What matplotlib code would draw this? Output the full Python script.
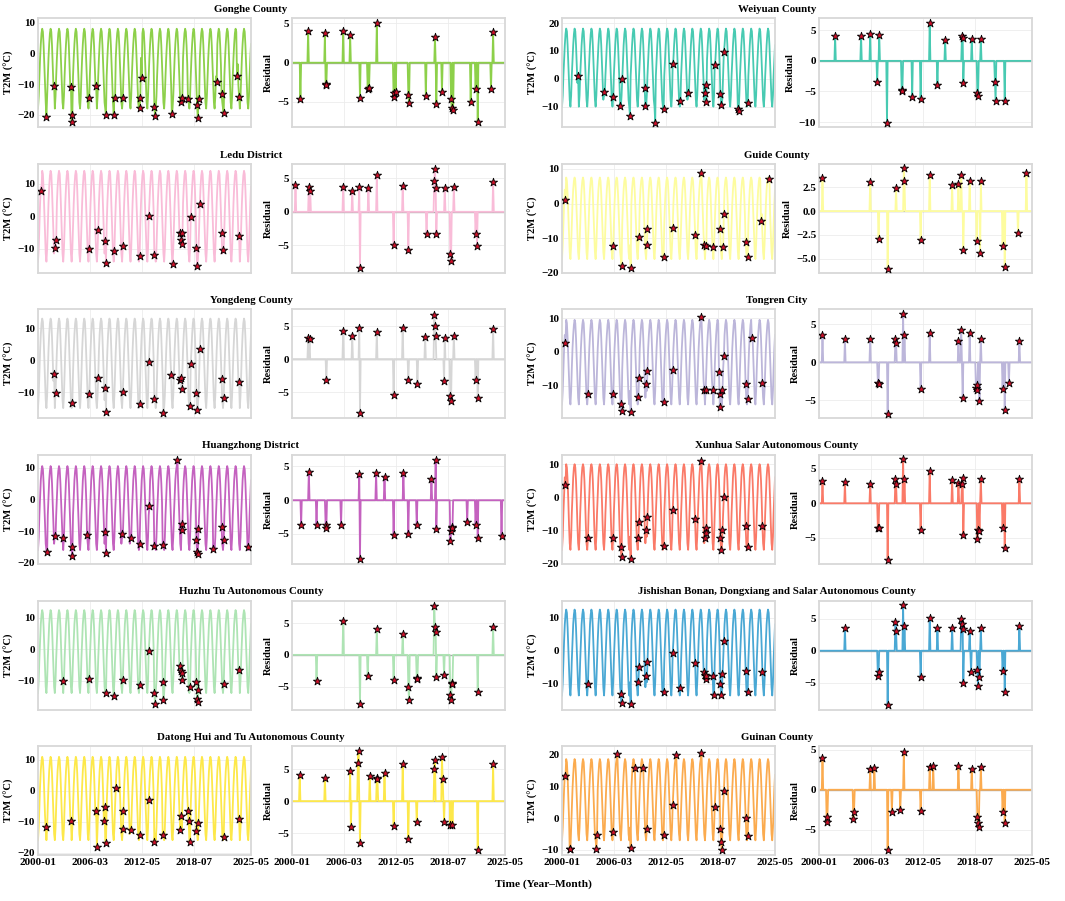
import numpy as np
import pandas as pd
import matplotlib
matplotlib.use('Agg')
import matplotlib.pyplot as plt
from matplotlib.ticker import MultipleLocator

plt.rcParams['font.family'] = ['Liberation Serif', 'DejaVu Serif']
plt.rcParams['font.weight'] = 'bold'
plt.rcParams['axes.labelweight'] = 'bold'

# monthly time axis 2000-01 .. 2025-05
dates = pd.date_range('2000-01-01', '2025-05-01', freq='MS')

# ---- data ----
# clim: typical monthly T2M (Jan..Dec); *_m: anomaly month index (0 = 2000-01)
# *_r: residual at the anomaly; *_t: T2M at the anomaly
gonghe_clim = [-18, -14, -7.5, -1.5, 3, 6.5, 8, 7, 2.5, -3.5, -10.5, -16]
gonghe_m = [12, 23, 47, 48, 49, 73, 83, 97, 108, 110, 121, 145, 146, 148, 166, 167, 191, 204, 206, 214, 227, 228, 230, 255, 262, 265, 284, 287]
gonghe_r = [-4.6, 4.1, 3.8, -2.7, -2.9, 4.1, 3.5, -4.5, -3.3, -3.2, 5.0, -4.4, -3.9, -3.7, -4.1, -5.2, -4.3, 3.3, -5.3, -3.8, -4.6, -5.8, -6.0, -5.0, -3.4, -7.6, -3.4, 3.9]
gonghe_t = [-20.7, -10.5, -10.9, -22.4, -20.0, -14.5, -10.7, -20.2, -20.0, -14.7, -14.5, -17.7, -14.5, -8.0, -17.4, -20.5, -19.8, -16.0, -14.5, -14.9, -16.9, -21.0, -15.0, -9.3, -13.3, -19.6, -7.4, -14.2]

weiyuan_clim = [-10, -6, 1, 7, 12, 16, 18, 17, 12, 5.5, -1.5, -7.5]
weiyuan_m = [23, 60, 73, 83, 86, 97, 118, 119, 133, 145, 158, 169, 180, 204, 205, 206, 218, 226, 227, 231, 251, 252, 265]
weiyuan_r = [4.1, 4.1, 4.4, -3.5, 4.3, -10.1, -4.7, -4.9, -5.9, -6.2, 6.2, -4.0, 3.4, 4.0, 3.8, -3.6, 3.6, -5.3, -5.7, 3.5, -3.5, -6.6, -6.6]
weiyuan_t = [1.0, -4.6, -6.7, -9.9, -0.2, -13.3, -3.4, -9.9, -15.7, -10.9, 5.2, -7.9, -5.2, -5.1, -2.2, -8.5, 5.1, -5.4, -9.4, 9.7, -10.9, -11.7, -8.8]

ledu_clim = [-14, -10, -3, 4, 9, 12.5, 14, 13, 8, 1.5, -6, -11.5]
ledu_m = [5, 24, 26, 73, 86, 96, 97, 109, 121, 145, 158, 166, 192, 203, 204, 205, 206, 218, 226, 227, 231, 262, 264, 287]
ledu_r = [4.0, 3.75, 3.15, 3.75, 3.15, 3.65, -8.35, 3.6, 5.5, -5.0, 3.85, -5.65, -3.35, 4.65, 6.35, 3.6, -3.35, 3.5, -6.25, -7.35, 3.65, -3.25, -5.15, 4.45]
ledu_t = [7.7, -9.7, -7.4, -10.0, -4.3, -7.7, -14.4, -10.7, -9.2, -12.3, 0.0, -11.9, -14.6, -5.2, -7.4, -5.2, -8.5, -0.2, -9.7, -15.2, 3.9, -5.1, -10.3, -6.2]

guide_clim = [-16, -12, -6, 0, 4, 6.5, 7.5, 6.5, 2.5, -3, -9, -14]
guide_m = [5, 73, 85, 98, 110, 121, 122, 145, 158, 190, 199, 203, 206, 215, 225, 230, 231, 262, 265, 284, 296]
guide_r = [3.45, 3.05, -2.95, -6.1, 2.45, 4.5, 3.2, -3.05, 3.8, 2.7, 2.8, 3.75, -4.1, 3.2, -3.1, -4.35, 3.15, -3.65, -5.9, -2.35, 4.0]
guide_t = [1.0, -12.3, -18.0, -18.6, -9.6, -11.8, -7.4, -15.4, -6.9, -9.0, 8.8, -12.0, -12.3, -12.5, -7.3, -12.5, -2.9, -11.0, -15.5, -4.9, 7.0]

yongdeng_clim = [-15, -11, -4, 3, 8, 11.5, 13, 12, 7, 0.5, -6.5, -12.5]
yongdeng_m = [23, 25, 49, 73, 86, 96, 97, 121, 145, 158, 166, 179, 190, 203, 204, 205, 217, 218, 226, 227, 231, 262, 265, 287]
yongdeng_r = [3.15, 3.0, -3.2, 4.3, 3.5, 4.75, -8.2, 4.05, -5.4, 4.75, -3.1, -3.8, 3.4, 6.7, 5.1, 3.55, -3.3, 3.25, -5.5, -6.4, 3.55, -3.1, -5.9, 4.55]
yongdeng_t = [-4.2, -10.2, -13.4, -10.5, -5.6, -8.6, -16.1, -10.0, -13.7, -0.7, -12.1, -16.5, -4.7, -6.1, -5.5, -8.9, -14.4, -1.1, -10.2, -15.5, 3.4, -5.8, -11.8, -6.8]

tongren_clim = [-15.5, -11.5, -5, 1, 5, 8, 9.5, 8.5, 4, -2, -8.5, -13.5]
tongren_m = [5, 37, 73, 84, 85, 98, 109, 110, 120, 122, 145, 158, 199, 203, 205, 215, 224, 225, 226, 229, 231, 262, 265, 271, 286]
tongren_r = [3.55, 3.0, 3.0, -2.65, -2.8, -6.8, 3.0, 2.6, 6.35, 3.65, -3.45, 3.8, 2.8, 4.2, -4.65, 3.85, -3.35, -3.65, -3.0, -5.1, 3.1, -3.55, -6.2, -2.75, 2.75]
tongren_t = [2.8, -12.5, -12.5, -15.5, -17.3, -17.7, -13.3, -7.7, -9.5, -5.5, -14.7, -5.2, 10.3, -11.2, -11.2, -11.2, -5.8, -12.3, -16.3, -11.2, -1.3, -9.5, -13.8, 4.0, -9.2]

huangzhong_clim = [-16, -12, -5, 1, 6, 9, 10.5, 9.5, 5, -1, -8, -14]
huangzhong_m = [13, 24, 35, 48, 49, 70, 96, 97, 120, 132, 145, 159, 166, 178, 199, 205, 206, 226, 227, 228, 229, 250, 262, 265, 299]
huangzhong_r = [-3.7, 4.2, -3.6, -3.7, -4.1, -3.6, 3.85, -8.7, 4.1, 3.5, -5.1, 4.1, -5.0, -3.7, 3.1, 6.0, -4.3, -6.0, -4.5, -3.9, -4.1, -3.3, -3.7, -5.6, -5.3]
huangzhong_t = [-16.7, -11.6, -12.3, -14.9, -17.9, -11.4, -10.4, -16.9, -10.9, -12.2, -14.1, -2.2, -14.8, -14.3, 12.4, -7.9, -9.6, -12.7, -16.7, -17.2, -9.4, -15.7, -8.8, -12.7, -14.9]

xunhua_clim = [-16, -12, -5, 1, 6, 9, 10, 9, 5, -1, -8.5, -14]
xunhua_m = [5, 37, 73, 84, 85, 98, 109, 110, 120, 122, 145, 158, 190, 199, 204, 205, 206, 226, 227, 229, 231, 262, 265, 286]
xunhua_r = [3.25, 3.1, 2.85, -3.55, -3.6, -8.2, 3.45, 2.85, 6.4, 3.5, -3.8, 4.65, 3.35, 3.0, 2.85, 3.7, -4.65, -5.15, -3.8, -4.0, 3.5, -3.55, -6.55, 3.5]
xunhua_t = [3.8, -12.5, -12.5, -15.2, -18.1, -18.8, -12.5, -7.4, -9.9, -5.9, -14.7, -3.8, -6.5, 11.1, -12.3, -9.5, -11.0, -12.5, -16.2, -10.1, 0.0, -8.9, -15.0, -8.9]

huzhu_clim = [-14, -10, -3, 3, 8, 11, 12.5, 11.5, 7, 0.5, -6.5, -12]
huzhu_m = [35, 73, 97, 108, 121, 145, 158, 166, 167, 178, 179, 203, 204, 205, 206, 217, 226, 227, 228, 229, 265, 287]
huzhu_r = [-4.05, 5.35, -7.7, -3.4, 4.1, -3.95, 3.3, -5.1, -7.1, -3.7, -3.85, 7.75, 4.35, 3.6, -3.5, -3.25, -6.4, -7.2, -4.5, -4.6, -5.8, 4.45]
huzhu_t = [-10.3, -9.5, -14.0, -14.8, -9.7, -11.4, -0.7, -14.0, -17.4, -10.5, -16.2, -5.5, -6.9, -7.7, -9.8, -11.9, -10.5, -15.9, -16.7, -13.0, -11.1, -6.7]

jishishan_clim = [-13.5, -9.5, -3, 3, 8, 11, 12.5, 11.5, 7, 1, -5.5, -11]
jishishan_m = [37, 84, 85, 98, 109, 110, 120, 122, 145, 158, 169, 190, 203, 204, 205, 206, 215, 217, 226, 227, 229, 231, 262, 265, 286]
jishishan_r = [3.6, -3.9, -3.3, -8.5, 4.5, 3.1, 7.1, 3.8, -4.1, 5.2, 3.6, 3.6, 5.05, 4.25, 3.35, -5.05, 3.1, -3.35, -3.1, -5.6, -4.15, 3.55, -3.2, -6.55, 3.85]
jishishan_t = [-9.9, -13.0, -15.7, -16.2, -9.5, -4.8, -7.5, -3.4, -12.6, -0.7, -11.1, -3.6, -6.3, -7.2, -8.5, -7.7, -7.7, -13.3, -10.0, -13.3, -7.0, 2.9, -6.0, -12.3, -6.5]

datong_clim = [-16, -12, -5, 1.5, 6.5, 9.5, 11, 10, 5.5, -1, -8, -14]
datong_m = [11, 47, 83, 84, 94, 95, 97, 111, 121, 122, 132, 145, 158, 166, 178, 203, 204, 214, 215, 217, 226, 229, 265, 287]
datong_r = [4.05, 3.55, 4.75, -4.0, 6.0, 7.8, -6.5, 3.9, 3.55, 3.4, 4.45, -3.85, 5.8, -5.95, -3.2, 4.95, 6.4, 6.9, 3.45, -3.2, -3.65, -3.75, -7.55, 5.75]
datong_t = [-11.7, -9.8, -6.5, -18.1, -9.7, -5.2, -17.0, 1.0, -12.5, -6.5, -12.7, -14.3, -3.0, -16.5, -14.3, -12.7, -8.2, -6.5, -9.8, -16.5, -13.1, -10.4, -15.1, -9.0]

guinan_clim = [-7, -3, 3, 9, 13.5, 17, 18.5, 17.5, 13, 7, 0, -5]
guinan_m = [5, 11, 12, 49, 50, 73, 79, 98, 104, 116, 121, 145, 158, 163, 199, 218, 226, 227, 228, 231, 262, 265]
guinan_r = [4.0, -4.1, -3.45, -3.7, -2.75, 2.55, 2.75, -7.6, -2.75, -2.5, 4.7, -2.65, 2.8, 3.0, 2.95, 2.65, -3.4, -4.2, -4.65, 2.85, -2.75, -4.2]
guinan_t = [13.2, -9.8, -9.8, -9.8, -5.3, -4.5, 20.0, -9.3, 15.6, 15.6, -3.5, -5.3, 4.0, 19.8, 20.5, 3.5, -3.5, -7.6, -10.0, 8.6, 0.0, -5.5]

names = ['Gonghe County', 'Weiyuan County', 'Ledu District', 'Guide County',
         'Yongdeng County', 'Tongren City', 'Huangzhong District',
         'Xunhua Salar Autonomous County', 'Huzhu Tu Autonomous County',
         'Jishishan Bonan, Dongxiang and Salar Autonomous County',
         'Datong Hui and Tu Autonomous County', 'Guinan County']
colors = ['#8dd04a', '#48cab2', '#f9bcd8', '#fdfc9f', '#d6d6d6', '#bcb6da',
          '#c462bf', '#fa7a68', '#aee4b4', '#4aa8d4', '#fde84a', '#fbab4f']
series = [
    (gonghe_clim, gonghe_m, gonghe_r, gonghe_t),
    (weiyuan_clim, weiyuan_m, weiyuan_r, weiyuan_t),
    (ledu_clim, ledu_m, ledu_r, ledu_t),
    (guide_clim, guide_m, guide_r, guide_t),
    (yongdeng_clim, yongdeng_m, yongdeng_r, yongdeng_t),
    (tongren_clim, tongren_m, tongren_r, tongren_t),
    (huangzhong_clim, huangzhong_m, huangzhong_r, huangzhong_t),
    (xunhua_clim, xunhua_m, xunhua_r, xunhua_t),
    (huzhu_clim, huzhu_m, huzhu_r, huzhu_t),
    (jishishan_clim, jishishan_m, jishishan_r, jishishan_t),
    (datong_clim, datong_m, datong_r, datong_t),
    (guinan_clim, guinan_m, guinan_r, guinan_t),
]
# y ranges and tick steps of each panel as seen in the figure
t2m_lims = [(-24, 11.5), (-17.3, 21.8), (-17.5, 16.1), (-20, 11.4), (-18.1, 16), (-19.5, 12.7),
            (-20.4, 14), (-20.3, 12.8), (-19.4, 15.4), (-17.9, 15.1), (-20.8, 14.5), (-11.6, 22.6)]
res_lims = [(-8.2, 5.7), (-10.8, 7.0), (-9.15, 7.15), (-6.5, 4.95), (-8.9, 7.6), (-7.3, 7.0),
            (-9.45, 6.7), (-8.8, 7.0), (-8.7, 8.5), (-9.3, 7.8), (-8.4, 8.6), (-8.2, 5.5)]
res_steps = [5, 5, 5, 2.5, 5, 5, 5, 5, 5, 5, 5, 5]

tick_idx = [0, 74, 148, 222, 304]

FW, FH = 1065, 901
fig = plt.figure(figsize=(FW / 100, FH / 100), dpi=100)

col_left = [38, 292, 562, 819]
W, H = 213, 109
row_top = [18, 164, 309, 455, 601, 746]
title_x = [251, 777]


def style(ax):
    ax.set_facecolor('white')
    ax.grid(True, color='#ececec', lw=0.6)
    ax.set_axisbelow(True)
    for s in ax.spines.values():
        s.set_color('#d8d8d8')
        s.set_linewidth(1.3)
    ax.tick_params(length=0, labelsize=8, pad=2)
    ax.set_xlim(dates[0], dates[-1])
    ax.set_xticks(dates[tick_idx])
    ax.set_xticklabels([dates[i].strftime('%Y-%m') for i in tick_idx])


for i, (name, col, (clim, mon, res, t2m)) in enumerate(zip(names, colors, series)):
    row, side = i // 2, i % 2
    top = row_top[row]
    t_line = np.array([clim[d.month - 1] for d in dates], dtype=float)
    r_line = np.zeros(len(dates))
    t_line[mon] = t2m
    r_line[mon] = res

    ax1 = fig.add_axes([col_left[2 * side] / FW, 1 - (top + H) / FH, W / FW, H / FH])
    ax2 = fig.add_axes([col_left[2 * side + 1] / FW, 1 - (top + H) / FH, W / FW, H / FH])
    for ax in (ax1, ax2):
        style(ax)
        if row < 5:
            ax.tick_params(labelbottom=False)

    ax1.plot(dates, t_line, color=col, lw=1.3, zorder=2)
    ax1.scatter(dates[mon], t_line[mon], marker='*', s=38, color='#d0102a',
                edgecolor='black', linewidth=0.6, zorder=3)
    ax1.set_ylim(*t2m_lims[i])
    ax1.yaxis.set_major_locator(MultipleLocator(10))
    ax1.set_ylabel('T2M (°C)', fontsize=7.6, labelpad=3)

    ax2.axhline(0, color='#8c8c8c', lw=1, alpha=0.7, zorder=1)
    ax2.plot(dates, r_line, color=col, lw=1.3, zorder=2)
    ax2.scatter(dates[mon], r_line[mon], marker='*', s=38, color='#d0102a',
                edgecolor='black', linewidth=0.6, zorder=3)
    ax2.set_ylim(*res_lims[i])
    ax2.yaxis.set_major_locator(MultipleLocator(res_steps[i]))
    ax2.set_ylabel('Residual', fontsize=7.6, labelpad=3)

    fig.text(title_x[side] / FW, 1 - (top - 9) / FH, name, ha='center', va='center',
             fontsize=7.8, fontweight='bold')

fig.text(543 / FW, 1 - 884 / FH, 'Time (Year–Month)', ha='center', va='center',
         fontsize=8.2, fontweight='bold')

fig.savefig('out.png', dpi=100)
